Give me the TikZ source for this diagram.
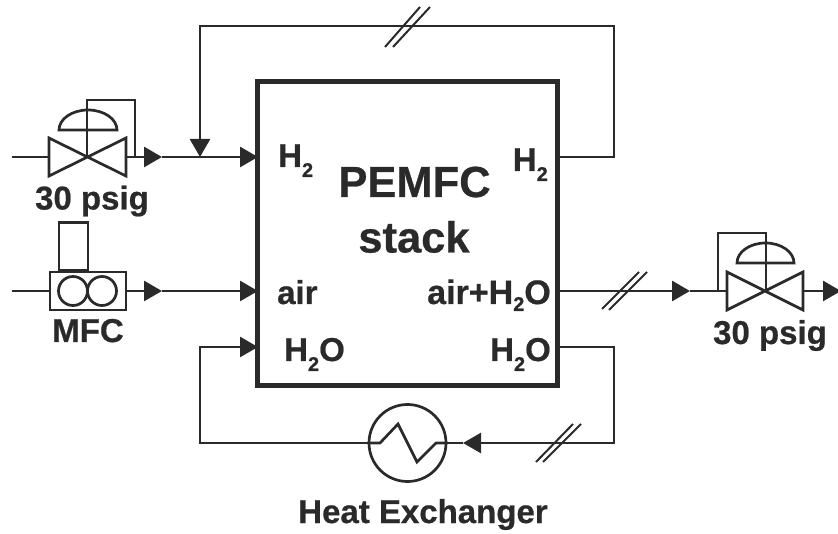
\documentclass[tikz,border=0pt]{standalone}
\usepackage{fontspec}
\setmainfont{Liberation Sans}[BoldFeatures={FakeBold=0.6}]
\usetikzlibrary{arrows.meta}
\definecolor{ink}{HTML}{2A2A2A}
\newcommand{\sbs}[2][-10pt]{\raisebox{#1}{\fontsize{20}{20}\selectfont #2}}
\tikzset{
  line/.style={draw=ink,line width=2.7pt,line join=miter},
  flow/.style={line,-{Triangle[length=18pt,width=20pt,fill=ink]}},
  slash/.style={draw=ink,line width=2pt},
  lbl/.style={text=ink,font=\fontsize{33}{33}\selectfont\bfseries,inner sep=0pt,anchor=base},
  big/.style={text=ink,font=\fontsize{43.5}{43.5}\selectfont\bfseries,inner sep=0pt,anchor=base},
  stackbox/.style={draw=ink,line width=5pt,minimum width=300pt,minimum height=304pt,inner sep=0pt},
  exch/.style={circle,draw=ink,line width=2.7pt,minimum size=77pt,inner sep=0pt},
  flowmeter/.style={draw=ink,line width=2.7pt,minimum width=76pt,minimum height=38pt,inner sep=0pt},
  actuator/.style={draw=ink,line width=2.7pt,minimum width=29pt,minimum height=48pt,inner sep=0pt,anchor=south},
  rotor/.style={circle,draw=ink,line width=2.7pt,minimum size=29pt,inner sep=0pt},
}
\begin{document}
\begin{tikzpicture}[x=1pt,y=-1pt]
\useasboundingbox (0,0) rectangle (838,534);
% stack
\node[stackbox] (stack) at (407.5,233.5) {};
\coordinate (h2in) at (258,157);
\coordinate (airin) at (258,291);
\coordinate (wtin) at (258,347);
\coordinate (h2out) at (558,157);
\coordinate (airout) at (558,291);
\coordinate (wtout) at (558,347);
% left valve
\coordinate (v1) at (87,157);
\coordinate (v1l) at (49,157);
\coordinate (v1r) at (126,157);
\coordinate (v1top) at (87,110);
\coordinate (in1) at (12,157);
\coordinate (a1) at (162,157);
\coordinate (join) at (200,157);
\coordinate (fbk) at (135,157);
\draw[line] (in1) -- (v1l);
\draw[line] (49,138) -- (49,176) -- (126,138) -- (126,176) -- cycle;
\draw[line] (v1) -- (v1top);
\draw[line] (59,130) arc[start angle=180,end angle=360,x radius=29,y radius=20] -- cycle;
\draw[line] (v1top) -- (87,100) -- (135,100) -- (fbk);
\draw[flow] (v1r) -- (a1);
\draw[flow] (a1) -- (h2in);
% H2 recycle
\draw[flow] (h2out) -- (614,157) -- (614,26) -- (200,26) -- (join);
\draw[slash] (385,47) -- (420,7);
\draw[slash] (393,47) -- (430,7);
% MFC
\node[flowmeter] (mfc) at (88,291) {};
\node[rotor] (r1) at (73,291) {};
\node[rotor] (r2) at (102,291) {};
\node[actuator] (act) at (73.5,272) {};
\coordinate (in2) at (12,291);
\coordinate (a2) at (162,291);
\draw[line] (in2) -- (mfc.west);
\draw[flow] (mfc.east) -- (a2);
\draw[flow] (a2) -- (airin);
% air out
\coordinate (v2) at (766,291);
\coordinate (v2l) at (727,291);
\coordinate (v2r) at (803,291);
\coordinate (v2top) at (766,243);
\coordinate (a3) at (690,291);
\coordinate (fb2) at (718,291);
\coordinate (out) at (841,291);
\draw[flow] (airout) -- (a3);
\draw[line] (a3) -- (v2l);
\draw[line] (727,272) -- (727,310) -- (803,272) -- (803,310) -- cycle;
\draw[line] (v2) -- (v2top);
\draw[line] (737,263) arc[start angle=180,end angle=360,x radius=28.5,y radius=20] -- cycle;
\draw[line] (v2top) -- (766,233) -- (718,233) -- (fb2);
\draw[flow] (v2r) -- (out);
\draw[slash] (602,309) -- (639,272);
\draw[slash] (609,310) -- (647,272);
% water loop
\node[exch] (hx) at (407.5,443) {};
\coordinate (a4) at (463,443);
\draw[flow] (wtout) -- (614,347) -- (614,443) -- (a4);
\draw[line] (a4) -- (hx.east);
\draw[flow] (hx.west) -- (200,443) -- (200,347) -- (wtin);
\draw[line] (hx.west) -- (380,443) -- (398,424) -- (417,462) -- (436,443) -- (hx.east);
\draw[slash] (536,462) -- (573,424);
\draw[slash] (543,462) -- (581,424);
% labels
\node[lbl,anchor=base west] (t1) at (278,167) {H\sbs{2}};
\node[lbl,anchor=base east] (t2) at (548,171) {H\sbs{2}};
\node[big] (t3) at (414.5,197) {PEMFC};
\node[big] (t4) at (414,252.5) {stack};
\node[lbl,anchor=base west] (t5) at (277,304) {air};
\node[lbl,anchor=base east,font=\fontsize{34}{34}\selectfont\bfseries] (t6) at (551,304) {air+H\sbs[-7pt]{2}O};
\node[lbl,anchor=base west] (t7) at (284,361) {H\sbs{2}O};
\node[lbl,anchor=base east] (t8) at (551,361) {H\sbs{2}O};
\node[lbl] (t9) at (92,209.5) {30 psig};
\node[lbl] (t10) at (88,342) {MFC};
\node[lbl] (t11) at (770,344) {30 psig};
\node[lbl] (t12) at (423,523) {Heat Exchanger};
\end{tikzpicture}
\end{document}
